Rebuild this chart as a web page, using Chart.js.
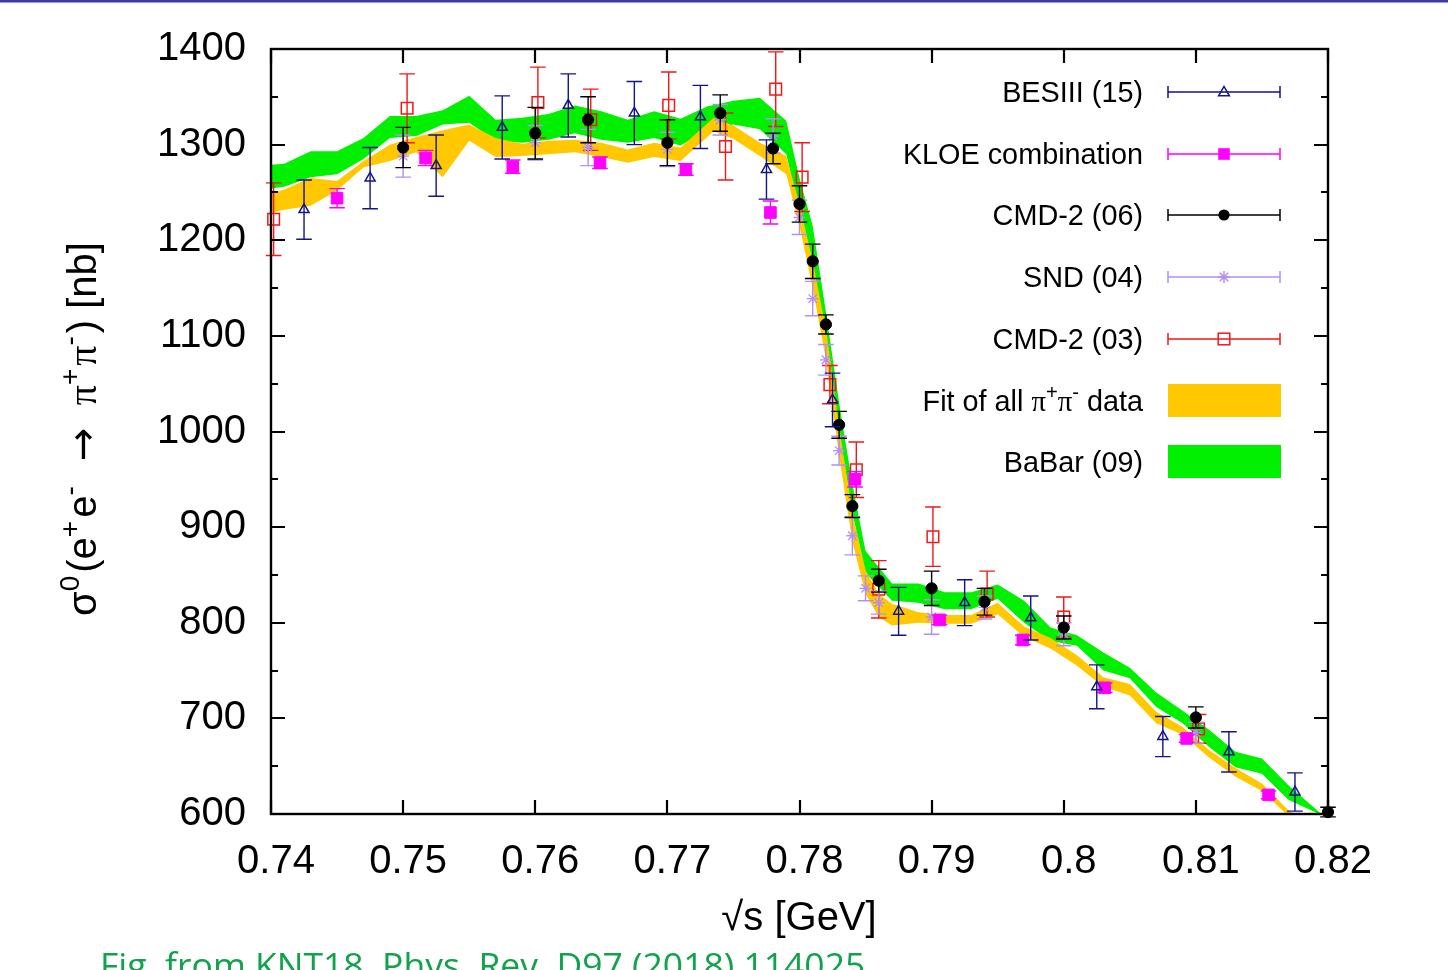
<!DOCTYPE html>
<html>
<head>
<meta charset="utf-8">
<script src="https://cdn.jsdelivr.net/npm/chart.js@4.4.1/dist/chart.umd.min.js"></script>
<style>
  html, body { margin: 0; padding: 0; background: #fff; overflow: hidden; }
  canvas { display: block; }
</style>
</head>
<body>
<canvas id="c" width="1448" height="970" style="width:1448px;height:970px"></canvas>
<script>
// ---------------- data ----------------
const xTickValues = [0.74, 0.75, 0.76, 0.77, 0.78, 0.79, 0.80, 0.81, 0.82];
const xTickLabels = ['0.74', '0.75', '0.76', '0.77', '0.78', '0.79', '0.8', '0.81', '0.82'];
const yTickValues = [600, 700, 800, 900, 1000, 1100, 1200, 1300, 1400];
const yTickLabels = ['600', '700', '800', '900', '1000', '1100', '1200', '1300', '1400'];
const yMinorValues = [650, 750, 850, 950, 1050, 1150, 1250, 1350];

// BESIII (15)
const besX = [0.7425, 0.7475, 0.7525, 0.7575, 0.7625, 0.7675, 0.7725, 0.7775, 0.7825, 0.7875, 0.7925, 0.7975, 0.8025, 0.8075, 0.8125, 0.8175];
const besY = [1232, 1265, 1278, 1318, 1341, 1333, 1329, 1274, 1033, 812, 821, 805, 733, 681, 665, 623];
const besE = [31, 32, 32, 33, 33, 33, 33, 31, 28, 25, 24, 23, 23, 21, 21, 20];

// KLOE combination
const kloeX = [0.7450, 0.7517, 0.7583, 0.7649, 0.7714, 0.7778, 0.7842, 0.7906, 0.7969, 0.8031, 0.8093, 0.8155];
const kloeY = [1244, 1286, 1277, 1281, 1274, 1229, 950, 803, 782, 732, 679, 620];
const kloeE = [10, 8, 7, 6, 6, 12, 8, 5, 5, 5, 4, 4];

// CMD-2 (06)
const cmd06X = [0.750, 0.760, 0.764, 0.770, 0.774, 0.778, 0.780, 0.781, 0.782, 0.783, 0.784, 0.786, 0.790, 0.794, 0.800, 0.810, 0.820];
const cmd06Y = [1297, 1312, 1326, 1302, 1333, 1296, 1238, 1178, 1112, 1007, 922, 844, 836, 822, 795, 701, 602];
const cmd06E = [21, 27, 24, 24, 19, 16, 19, 18, 10, 14, 12, 12, 18, 14, 12, 11, 5];

// SND (04)
const sndX = [0.750, 0.760, 0.764, 0.770, 0.774, 0.778, 0.780, 0.781, 0.782, 0.783, 0.784, 0.785, 0.786, 0.790, 0.794, 0.800, 0.810];
const sndY = [1288, 1302, 1297, 1295, 1326, 1309, 1224, 1139, 1075, 980, 891, 836, 821, 806, 816, 788, 685];
const sndE = [22, 18, 19, 18, 16, 18, 18, 18, 16, 15, 20, 13, 12, 18, 12, 12, 11];

// CMD-2 (03)
const cmd03X = [0.7402, 0.7503, 0.7602, 0.7642, 0.7701, 0.7744, 0.7782, 0.7802, 0.7823, 0.7843, 0.7860, 0.7901, 0.7942, 0.8000, 0.8102];
const cmd03Y = [1222, 1338, 1344, 1326, 1341, 1298, 1358, 1266, 1049, 960, 835, 890, 830, 806, 689];
const cmd03E = [38, 36, 37, 32, 35, 35, 39, 36, 20, 29, 30, 31, 24, 21, 15];

// Fit of all pi+pi- data (band: upper / lower edge)
const fitX  = [0.740, 0.741, 0.743, 0.745, 0.747, 0.749, 0.751, 0.753, 0.755, 0.757, 0.759, 0.761, 0.763, 0.765, 0.767, 0.769, 0.771, 0.7735, 0.775, 0.777, 0.779, 0.780, 0.781, 0.782, 0.783, 0.784, 0.785, 0.786, 0.787, 0.789, 0.791, 0.793, 0.795, 0.797, 0.799, 0.801, 0.803, 0.805, 0.807, 0.809, 0.811, 0.813, 0.815, 0.817, 0.818];
const fitHi = [1249, 1253, 1265, 1262, 1283, 1300, 1308, 1315, 1321, 1307, 1301, 1304, 1305, 1302, 1295, 1302, 1297, 1328, 1320, 1302, 1288, 1238, 1178, 1108, 1005, 915, 855, 830, 820, 811, 808, 808, 821, 796, 784, 766, 743, 736, 707, 691, 667, 648, 632, 604, 595];
const fitLo = [1229, 1232, 1236, 1252, 1276, 1283, 1292, 1266, 1304, 1287, 1288, 1290, 1292, 1287, 1281, 1287, 1283, 1314, 1306, 1288, 1269, 1215, 1150, 1075, 975, 885, 830, 806, 797, 800, 799, 799, 809, 785, 773, 755, 733, 724, 695, 683, 659, 639, 624, 598, 590];

// BaBar (09) (band: upper / lower edge)
const babarX  = [0.740, 0.741, 0.743, 0.745, 0.747, 0.749, 0.751, 0.753, 0.755, 0.757, 0.759, 0.761, 0.763, 0.765, 0.767, 0.769, 0.771, 0.773, 0.775, 0.777, 0.779, 0.780, 0.781, 0.782, 0.783, 0.784, 0.785, 0.787, 0.789, 0.791, 0.793, 0.795, 0.797, 0.799, 0.801, 0.803, 0.805, 0.807, 0.809, 0.811, 0.813, 0.815, 0.817, 0.819, 0.8195];
const babarHi = [1279, 1280, 1293, 1293, 1307, 1330, 1330, 1336, 1351, 1326, 1328, 1332, 1341, 1335, 1326, 1335, 1327, 1340, 1346, 1349, 1325, 1265, 1215, 1125, 1030, 945, 875, 841, 841, 832, 832, 840, 823, 795, 787, 769, 753, 727, 708, 688, 665, 658, 630, 606, 600];
const babarLo = [1254, 1256, 1266, 1269, 1285, 1307, 1309, 1321, 1323, 1304, 1302, 1305, 1312, 1305, 1302, 1307, 1299, 1315, 1321, 1316, 1290, 1230, 1175, 1095, 1000, 915, 852, 823, 821, 814, 814, 825, 800, 781, 776, 750, 742, 712, 695, 670, 649, 642, 615, 602, 598];

// ---------------- styling ----------------
const FONT = '"Liberation Sans", Arial, Helvetica, sans-serif';
const SERIF = '"Liberation Serif", "DejaVu Serif", serif';
const ARROWFONT = '"DejaVu Sans", sans-serif';
const C_BES = '#14148a', C_KLOE = '#ff00ff', C_CMD06 = '#000000', C_SND = '#b38ef5', C_CMD03 = '#f01818';
const C_FIT = '#ffc800', C_BABAR = '#00f000';

const pts = (xs, ys) => xs.map((x, i) => ({ x: x, y: ys[i] }));

function pointSet(label, xs, ys, es, style, color, fillColor, radius, bw) {
  return {
    label: label, data: pts(xs, ys), errors: es, errColor: color,
    showLine: false, pointStyle: style, pointRadius: radius, pointHoverRadius: radius,
    borderColor: color, backgroundColor: fillColor, pointBorderWidth: bw, borderWidth: bw,
    clip: false
  };
}
function bandEdge(label, xs, ys, color, fill) {
  return {
    label: label, data: pts(xs, ys), showLine: true, pointRadius: 0, pointHoverRadius: 0,
    borderWidth: 0, borderColor: color, backgroundColor: color, fill: fill, tension: 0
  };
}

const datasets = [
  pointSet('BESIII (15)', besX, besY, besE, 'triangle', C_BES, 'rgba(0,0,0,0)', 5.8, 1.5),
  pointSet('KLOE combination', kloeX, kloeY, kloeE, 'rect', C_KLOE, C_KLOE, 8.2, 1),
  pointSet('CMD-2 (06)', cmd06X, cmd06Y, cmd06E, 'circle', C_CMD06, C_CMD06, 5.6, 1),
  pointSet('SND (04)', sndX, sndY, sndE, 'star', C_SND, C_SND, 6, 1.3),
  pointSet('CMD-2 (03)', cmd03X, cmd03Y, cmd03E, 'rect', C_CMD03, 'rgba(0,0,0,0)', 8.2, 1.5),
  bandEdge('Fit of all π+π- data', fitX, fitHi, C_FIT, '+1'),
  bandEdge('fit lower', fitX, fitLo, C_FIT, false),
  bandEdge('BaBar (09)', babarX, babarHi, C_BABAR, '+1'),
  bandEdge('babar lower', babarX, babarLo, C_BABAR, false)
];

// error bars drawn just before each point dataset
const errorBars = {
  id: 'errorBars',
  beforeDatasetDraw(chart, args) {
    const ds = chart.data.datasets[args.index];
    if (!ds.errors) return;
    const xs = chart.scales.x, ys = chart.scales.y, ctx = chart.ctx;
    ctx.save();
    ctx.strokeStyle = ds.errColor;
    ctx.lineWidth = 1.4;
    ds.data.forEach((p, i) => {
      const e = ds.errors[i];
      const px = xs.getPixelForValue(p.x);
      const y1 = ys.getPixelForValue(p.y - e), y2 = ys.getPixelForValue(p.y + e);
      ctx.beginPath();
      ctx.moveTo(px, y1); ctx.lineTo(px, y2);
      ctx.moveTo(px - 7.8, y1); ctx.lineTo(px + 7.8, y1);
      ctx.moveTo(px - 7.8, y2); ctx.lineTo(px + 7.8, y2);
      ctx.stroke();
    });
    ctx.restore();
  }
};

// frame and inward ticks
const frame = {
  id: 'frame',
  afterDatasetsDraw(chart) {
    const { ctx, chartArea: a } = chart;
    const xs = chart.scales.x, ys = chart.scales.y;
    ctx.save();
    ctx.strokeStyle = '#000';
    ctx.lineWidth = 2.2;
    ctx.beginPath();
    xTickValues.forEach(v => {
      const px = Math.round(xs.getPixelForValue(v));
      ctx.moveTo(px, a.bottom); ctx.lineTo(px, a.bottom - 14);
      ctx.moveTo(px, a.top); ctx.lineTo(px, a.top + 14);
    });
    yTickValues.forEach(v => {
      const py = Math.round(ys.getPixelForValue(v));
      ctx.moveTo(a.left, py); ctx.lineTo(a.left + 14, py);
      ctx.moveTo(a.right, py); ctx.lineTo(a.right - 14, py);
    });
    yMinorValues.forEach(v => {
      const py = Math.round(ys.getPixelForValue(v));
      ctx.moveTo(a.left, py); ctx.lineTo(a.left + 7, py);
      ctx.moveTo(a.right, py); ctx.lineTo(a.right - 7, py);
    });
    ctx.stroke();
    ctx.lineWidth = 2.4;
    ctx.strokeRect(a.left, a.top, a.right - a.left, a.bottom - a.top);
    ctx.restore();
  }
};

// helper: draw text pieces with superscripts; returns width
function richText(ctx, parts, x, y, size, measureOnly) {
  let cx = x;
  parts.forEach(p => {
    const s = p.sup ? size * 0.7 : size;
    ctx.font = s + 'px ' + (p.font || FONT);
    if (!measureOnly) ctx.fillText(p.t, cx, y - (p.sup ? size * 0.42 : 0));
    cx += ctx.measureText(p.t).width + (p.gap || 0);
  });
  return cx - x;
}

function drawMarker(ctx, style, x, y, color) {
  ctx.save();
  ctx.strokeStyle = color; ctx.fillStyle = color; ctx.lineWidth = 1.5;
  ctx.beginPath();
  if (style === 'triangle') {
    ctx.moveTo(x - 5.4, y + 3.8); ctx.lineTo(x + 5.4, y + 3.8); ctx.lineTo(x, y - 5.6); ctx.closePath(); ctx.stroke();
  } else if (style === 'sqfill') {
    ctx.fillRect(x - 5.8, y - 5.8, 11.6, 11.6);
  } else if (style === 'circle') {
    ctx.arc(x, y, 5.6, 0, Math.PI * 2); ctx.fill();
  } else if (style === 'star') {
    const r = 6;
    ctx.moveTo(x - r, y); ctx.lineTo(x + r, y);
    ctx.moveTo(x, y - r); ctx.lineTo(x, y + r);
    const d = r * 0.7071;
    ctx.moveTo(x - d, y - d); ctx.lineTo(x + d, y + d);
    ctx.moveTo(x - d, y + d); ctx.lineTo(x + d, y - d);
    ctx.stroke();
  } else if (style === 'sqopen') {
    ctx.strokeRect(x - 5.8, y - 5.8, 11.6, 11.6);
  }
  ctx.restore();
}

const decorations = {
  id: 'decorations',
  afterDraw(chart) {
    const ctx = chart.ctx;
    ctx.save();
    // top rule
    ctx.fillStyle = '#3b3ba6';
    ctx.fillRect(0, 0, 1448, 2.5);

    ctx.fillStyle = '#000';
    ctx.textBaseline = 'alphabetic';
    // x title
    ctx.font = '40px ' + FONT;
    ctx.textAlign = 'center';
    ctx.fillText('√s [GeV]', 799, 930);

    // y title, rotated
    ctx.textAlign = 'left';
    const yParts = [
      { t: 'σ' }, { t: '0', sup: true, gap: 3 }, { t: '(e' }, { t: '+', sup: true, gap: 3 }, { t: 'e' }, { t: '-', sup: true, gap: 3 },
      { t: '  ' }, { t: '→', font: ARROWFONT }, { t: '  ' }, { t: 'π', font: SERIF }, { t: '+', sup: true, gap: 3 },
      { t: 'π', font: SERIF }, { t: '-', sup: true, gap: 3 }, { t: ') [nb]' }
    ];
    ctx.save();
    ctx.translate(96, 429);
    ctx.rotate(-Math.PI / 2);
    const w = richText(ctx, yParts, 0, 0, 40, true);
    richText(ctx, yParts, -w / 2, 0, 40, false);
    ctx.restore();

    // legend
    const rows = [
      { y: 92, label: [{ t: 'BESIII (15)' }], color: C_BES, mk: 'triangle' },
      { y: 154, label: [{ t: 'KLOE combination' }], color: C_KLOE, mk: 'sqfill' },
      { y: 215, label: [{ t: 'CMD-2 (06)' }], color: C_CMD06, mk: 'circle' },
      { y: 277, label: [{ t: 'SND (04)' }], color: C_SND, mk: 'star' },
      { y: 339, label: [{ t: 'CMD-2 (03)' }], color: C_CMD03, mk: 'sqopen' },
      { y: 401, label: [{ t: 'Fit of all ' }, { t: 'π', font: SERIF }, { t: '+', sup: true }, { t: 'π', font: SERIF }, { t: '-', sup: true }, { t: ' data' }], color: C_FIT, box: true },
      { y: 462, label: [{ t: 'BaBar (09)' }], color: C_BABAR, box: true }
    ];
    rows.forEach(r => {
      ctx.fillStyle = '#000';
      const lw = richText(ctx, r.label, 0, 0, 28.8, true);
      richText(ctx, r.label, 1143 - lw, r.y + 10, 28.8, false);
      if (r.box) {
        ctx.fillStyle = r.color;
        ctx.fillRect(1168, r.y - 17, 113, 33);
      } else {
        ctx.strokeStyle = r.color;
        ctx.lineWidth = 1.5;
        ctx.beginPath();
        ctx.moveTo(1168, r.y); ctx.lineTo(1280, r.y);
        ctx.moveTo(1168, r.y - 6); ctx.lineTo(1168, r.y + 6);
        ctx.moveTo(1280, r.y - 6); ctx.lineTo(1280, r.y + 6);
        ctx.stroke();
        drawMarker(ctx, r.mk, 1224, r.y, r.color);
      }
    });

    // caption
    ctx.fillStyle = '#12a24c';
    ctx.font = '35.5px "Open Sans", "Noto Sans", sans-serif';
    ctx.textAlign = 'left';
    ctx.fillText('Fig. from KNT18, Phys. Rev. D97 (2018) 114025', 100, 978);
    ctx.restore();
  }
};

new Chart(document.getElementById('c'), {
  type: 'scatter',
  data: { datasets: datasets },
  options: {
    responsive: false,
    animation: false,
    events: [],
    layout: { padding: { left: 0, right: 120, top: 46, bottom: 0 } },
    plugins: { legend: { display: false }, tooltip: { enabled: false } },
    scales: {
      x: {
        type: 'linear', min: 0.74, max: 0.82,
        afterBuildTicks: s => { s.ticks = xTickValues.map(v => ({ value: v })); },
        afterFit: s => { s.height = 156; },
        grid: { display: false, drawTicks: false },
        border: { display: false },
        ticks: {
          color: '#000', font: { family: FONT, size: 40 }, padding: 24, labelOffset: 5,
          maxRotation: 0, autoSkip: false,
          callback: (v, i) => xTickLabels[i]
        }
      },
      y: {
        type: 'linear', min: 600, max: 1400,
        afterBuildTicks: s => { s.ticks = yTickValues.map(v => ({ value: v })); },
        afterFit: s => { s.width = 271; },
        grid: { display: false, drawTicks: false },
        border: { display: false },
        ticks: {
          color: '#000', font: { family: FONT, size: 40 }, padding: 25,
          autoSkip: false,
          callback: (v, i) => yTickLabels[i]
        }
      }
    }
  },
  plugins: [errorBars, frame, decorations]
});
</script>
</body>
</html>
